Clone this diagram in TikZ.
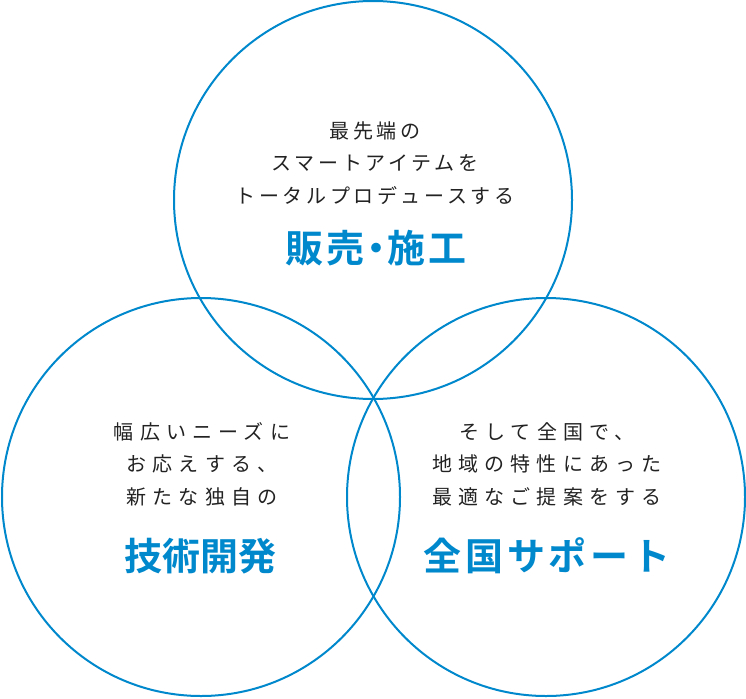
\documentclass[tikz,border=0pt]{standalone}
\usepackage{fontspec}
\newfontfamily\bodyfont{Noto Sans CJK JP}
\newfontfamily\headfont{Noto Sans CJK JP Bold}
\definecolor{ringblue}{RGB}{0,136,204}
\definecolor{inktext}{RGB}{34,34,34}
\tikzset{
  ring/.style={draw=ringblue, line width=2pt, circle, minimum size=398pt, inner sep=0pt},
  body/.style={text=inktext, align=center, font=\fontsize{20}{32.5}\selectfont\bodyfont\addfontfeature{LetterSpace=#1}},
  body/.default=31,
  head/.style={text=ringblue, font=\fontsize{38}{40}\selectfont\headfont\addfontfeature{LetterSpace=#1}},
  head/.default=0,
  headtight/.style={text=ringblue, font=\fontsize{38}{40}\selectfont\headfont\addfontfeature{RawFeature=+palt,LetterSpace=6}}
}

\begin{document}
\begin{tikzpicture}[x=1pt, y=-1pt]
        \useasboundingbox (0,0) rectangle (746,698);
        \node[ring] (sales) at (373,200) {};
        \node[ring] (tech) at (201,497) {};
        \node[ring] (support) at (546,497) {};
        \node[body=18] (salesText) at (375,163) {最先端の\\スマートアイテムを\\トータルプロデュースする};
        \node[headtight] (salesHead) at (376,248) {販売・施工};
        \node[body] (techText) at (202,464) {幅広いニーズに\\お応えする、\\新たな独自の};
        \node[head] (techHead) at (200,556) {技術開発};
        \node[body] (supportText) at (547,464) {そして全国で、\\地域の特性にあった\\最適なご提案をする};
        \node[head=10] (supportHead) at (547,556) {全国サポート};
\end{tikzpicture}
\end{document}
